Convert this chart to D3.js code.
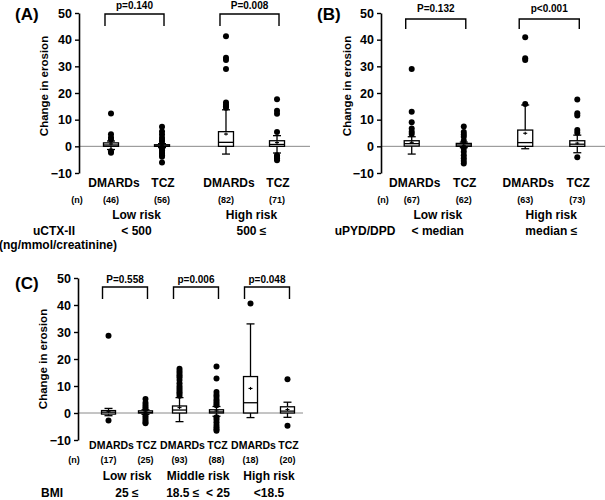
<!DOCTYPE html>
<html>
<head>
<meta charset="utf-8">
<script src="https://cdn.jsdelivr.net/npm/d3@7"></script>
<style>
  html, body { margin: 0; padding: 0; background: #fff; }
  svg { display: block; font-family: "Liberation Sans", Arial, sans-serif; }
</style>
</head>
<body>
<svg id="chart" width="605" height="500"></svg>
<script>
// ---------------- DATA ----------------
const treatments = ["DMARDs", "TCZ"];
const yTicks = [-10, 0, 10, 20, 30, 40, 50];
const yTitle = "Change in erosion";

// Box stats: [whiskerLow, q1, median, q3, whiskerHigh, mean]
// Panel A
const aRiskGroups = ["Low risk", "High risk"];
const aThresholds = ["< 500", "500 ≤"];
const aMarker = ["uCTX-II", "(ng/mmol/creatinine)"];
const aPValues = ["p=0.140", "P=0.008"];
const aN = [46, 56, 82, 71];
const aStats = [
  [-1.2, 0, 0.5, 1.3, 2.0, 0.9],
  [-0.5, 0, 0.1, 0.6, 1.0, 0.4],
  [-2.9, 0, 1.5, 5.5, 13.7, 4.6],
  [-2.5, 0, 0.7, 2.1, 4.0, 1.4]
];
const aOutliers = [
  [12.3, 4.5, 3.3, 2.6, -1.8, -2.4],
  [7.3, 5.6, 4.4, 3.2, 2.4, 1.7, -0.8, -1.5, -2.1, -2.7, -3.3, -3.9, -6.1],
  [41.3, 33.2, 32.4, 29.0, 16.4, 15.6, 15.0, 14.5],
  [17.7, 13.3, 12.2, 5.4, -3.3, -3.9, -4.5, -5.2]
];

// Panel B
const bRiskGroups = ["Low risk", "High risk"];
const bThresholds = ["< median", "median ≤"];
const bMarker = ["uPYD/DPD"];
const bPValues = ["P=0.132", "p<0.001"];
const bN = [67, 62, 63, 73];
const bStats = [
  [-2.9, 0.1, 1.0, 2.1, 3.6, 1.5],
  [-0.5, 0, 0.5, 1.1, 1.6, 0.4],
  [-0.9, 0, 1.4, 6.1, 15.5, 4.9],
  [-2.4, 0, 0.8, 2.1, 4.2, 1.2]
];
const bOutliers = [
  [29.0, 13.0, 9.0, 6.7, 5.5, 4.6],
  [7.4, 5.4, 4.4, 3.6, 2.1, -0.8, -2.0, -3.3, -4.5, -5.5, -6.4],
  [40.9, 33.0, 32.4, 15.9],
  [17.6, 12.4, 11.6, 6.1, 5.1, -4.1]
];

// Panel C
const cRiskGroups = ["Low risk", "Middle risk", "High risk"];
const cThresholds = ["25 ≤", "18.5 ≤  < 25", "<18.5"];
const cMarker = ["BMI"];
const cPValues = ["P=0.558", "p=0.006", "p=0.048"];
const cN = [17, 25, 93, 88, 18, 20];
const cStats = [
  [-1.0, -0.4, 0.3, 0.9, 1.7, 0.5],
  [-0.5, 0, 0.2, 0.8, 1.2, 0.4],
  [-3.2, 0, 1.1, 2.6, 5.7, 2.0],
  [-1.2, 0, 0.4, 1.2, 2.4, 0.8],
  [-1.7, 0, 3.8, 13.5, 33.0, 9.1],
  [-1.6, 0, 0.7, 2.3, 4.0, 1.3]
];
const cOutliers = [
  [28.6, -2.8],
  [5.2, 3.8, 3.0, 2.2, 1.6, -1.0, -1.8, -2.6, -3.3, -3.8],
  [16.4, 15.6, 14.8, 14.0, 13.2, 12.2, 11.0, 10.0, 9.3, 8.5, 7.8, 7.2, 6.4],
  [17.2, 12.8, 7.8, 6.8, 6.0, 5.0, 4.3, 3.5, 2.9, -1.6, -2.4, -3.4, -4.4, -5.3, -6.0, -6.6],
  [40.6],
  [12.5, -4.7]
];

// ---------------- LAYOUT ----------------
const svg = d3.select("#chart");

const panels = [
  {
    letter: "(A)", letterX: 15, letterY: 20,
    risks: aRiskGroups, thresholds: aThresholds, marker: aMarker, pvals: aPValues,
    n: aN, stats: aStats, outliers: aOutliers,
    axisX: 79, yRange: [173, 13], outer: [79, 309], innerPad: 0.627,
    zeroEnd: 310, titleX: 44, titleY: 86,
    brTop: 14, brBot: 26, pY: 8.5,
    catY: 186.5, catSize: 12, nY: 203, nLabelX: 77, riskY: 218.5, thrY: 235,
    markerX: 54, markerY: [235, 249], boxW: 15, r: 3
  },
  {
    letter: "(B)", letterX: 317, letterY: 20,
    risks: bRiskGroups, thresholds: bThresholds, marker: bMarker, pvals: bPValues,
    n: bN, stats: bStats, outliers: bOutliers,
    axisX: 381, yRange: [173, 13], outer: [381, 608], innerPad: 0.59,
    zeroEnd: 605, titleX: 347, titleY: 86,
    brTop: 19, brBot: 29, pY: 12,
    catY: 186.5, catSize: 12, nY: 203, nLabelX: 383, riskY: 218.5, thrY: 235,
    markerX: 365, markerY: [235], boxW: 15, r: 3
  },
  {
    letter: "(C)", letterX: 15, letterY: 289,
    risks: cRiskGroups, thresholds: cThresholds, marker: cMarker, pvals: cPValues,
    n: cN, stats: cStats, outliers: cOutliers,
    axisX: 78, yRange: [440, 278], outer: [91.5, 304.5], innerPad: 0.46,
    zeroEnd: 303, titleX: 43, titleY: 359,
    brTop: 287, brBot: 299, pY: 283,
    catY: 449, catSize: 10.5, nY: 462.5, nLabelX: 74, riskY: 480, thrY: 497,
    markerX: 52, markerY: [497], boxW: 14, r: 3
  }
];

panels.forEach(p => drawPanel(p));

function drawPanel(p) {
  const g = svg.append("g");
  const y = d3.scaleLinear().domain([-10, 50]).range(p.yRange);
  const outer = d3.scaleBand().domain(p.risks).range(p.outer).padding(0);
  const inner = d3.scalePoint().domain(treatments).range([0, outer.bandwidth()]).padding(p.innerPad);

  // groups flattened
  const groups = [];
  p.risks.forEach((risk, ri) => {
    treatments.forEach((t, ti) => {
      const idx = ri * 2 + ti;
      groups.push({ risk, t, idx, x: outer(risk) + inner(t), stats: p.stats[idx], outl: p.outliers[idx], n: p.n[idx] });
    });
  });

  // zero reference line
  g.append("line")
    .attr("x1", p.axisX).attr("x2", p.zeroEnd)
    .attr("y1", y(0)).attr("y2", y(0))
    .attr("stroke", "#8a8a8a").attr("stroke-width", 1);

  // axis
  const axis = d3.axisLeft(y).tickValues(yTicks).tickSize(4).tickSizeOuter(0).tickPadding(3);
  const ax = g.append("g").attr("transform", `translate(${p.axisX},0)`).call(axis);
  ax.select(".domain").attr("stroke", "#000").attr("stroke-width", 1.6);
  ax.selectAll(".tick line").attr("stroke", "#000").attr("stroke-width", 1.4);
  ax.selectAll(".tick text").attr("fill", "#000")
    .style("font-size", "12.5px").style("font-weight", "bold")
    .style("font-family", "'Liberation Sans', Arial, sans-serif");

  // y title
  g.append("text")
    .attr("transform", `translate(${p.titleX},${p.titleY}) rotate(-90)`)
    .attr("text-anchor", "middle").attr("dy", "0.35em")
    .style("font-size", "11.5px").style("font-weight", "bold")
    .text(yTitle);

  // panel letter
  g.append("text").attr("x", p.letterX).attr("y", p.letterY)
    .style("font-size", "17px").style("font-weight", "bold").text(p.letter);

  // boxes
  const bw = p.boxW, cap = 8;
  groups.forEach(d => {
    const [wl, q1, med, q3, wh, mean] = d.stats;
    const gg = g.append("g");
    // whiskers
    gg.append("line").attr("x1", d.x).attr("x2", d.x).attr("y1", y(q3)).attr("y2", y(wh))
      .attr("stroke", "#000").attr("stroke-width", 1.3);
    gg.append("line").attr("x1", d.x).attr("x2", d.x).attr("y1", y(q1)).attr("y2", y(wl))
      .attr("stroke", "#000").attr("stroke-width", 1.3);
    gg.append("line").attr("x1", d.x - cap / 2).attr("x2", d.x + cap / 2).attr("y1", y(wh)).attr("y2", y(wh))
      .attr("stroke", "#000").attr("stroke-width", 1.3);
    gg.append("line").attr("x1", d.x - cap / 2).attr("x2", d.x + cap / 2).attr("y1", y(wl)).attr("y2", y(wl))
      .attr("stroke", "#000").attr("stroke-width", 1.3);
    // box
    gg.append("rect").attr("x", d.x - bw / 2).attr("width", bw)
      .attr("y", y(q3)).attr("height", Math.max(0.5, y(q1) - y(q3)))
      .attr("fill", "#fff").attr("stroke", "#000").attr("stroke-width", 1.3);
    // median
    gg.append("line").attr("x1", d.x - bw / 2).attr("x2", d.x + bw / 2).attr("y1", y(med)).attr("y2", y(med))
      .attr("stroke", "#000").attr("stroke-width", 1.3);
    // mean +
    gg.append("line").attr("x1", d.x - 2).attr("x2", d.x + 2).attr("y1", y(mean)).attr("y2", y(mean))
      .attr("stroke", "#000").attr("stroke-width", 1.1);
    gg.append("line").attr("x1", d.x).attr("x2", d.x).attr("y1", y(mean) - 1.5).attr("y2", y(mean) + 1.5)
      .attr("stroke", "#000").attr("stroke-width", 1.1);
    // outliers
    gg.selectAll("circle").data(d.outl).join("circle")
      .attr("cx", d.x).attr("cy", v => y(v)).attr("r", p.r).attr("fill", "#000");

    // category label
    g.append("text").attr("x", d.x + (d.t === "DMARDs" ? 3 : 1)).attr("y", p.catY)
      .attr("text-anchor", "middle").style("font-size", p.catSize + "px").style("font-weight", "bold")
      .text(d.t);
    // n label
    g.append("text").attr("x", d.x).attr("y", p.nY)
      .attr("text-anchor", "middle").style("font-size", "9px").style("font-weight", "bold")
      .text(`(${d.n})`);
  });

  // (n)
  g.append("text").attr("x", p.nLabelX).attr("y", p.nY)
    .attr("text-anchor", "middle").style("font-size", "9px").style("font-weight", "bold").text("(n)");

  // brackets and p-values
  p.risks.forEach((risk, ri) => {
    const xl = outer(risk) + inner("DMARDs") - 6;
    const xr = outer(risk) + inner("TCZ") + 2;
    g.append("path")
      .attr("d", `M${xl},${p.brBot}V${p.brTop}H${xr}V${p.brBot}`)
      .attr("fill", "none").attr("stroke", "#000").attr("stroke-width", 1.4);
    g.append("text").attr("x", (xl + xr) / 2).attr("y", p.pY)
      .attr("text-anchor", "middle").style("font-size", "10px").style("font-weight", "bold")
      .text(p.pvals[ri]);
    // risk label
    g.append("text").attr("x", outer(risk) + outer.bandwidth() / 2).attr("y", p.riskY)
      .attr("text-anchor", "middle").style("font-size", "12px").style("font-weight", "bold")
      .text(risk);
    // threshold
    g.append("text").attr("x", outer(risk) + outer.bandwidth() / 2).attr("y", p.thrY)
      .attr("text-anchor", "middle").style("font-size", "12px").style("font-weight", "bold")
      .style("white-space", "pre")
      .text(p.thresholds[ri]);
  });

  // marker label
  p.marker.forEach((m, i) => {
    g.append("text").attr("x", p.markerX + (i === 1 ? 4 : 0)).attr("y", p.markerY[i])
      .attr("text-anchor", "middle").style("font-size", "12px").style("font-weight", "bold")
      .text(m);
  });
}
</script>
</body>
</html>
